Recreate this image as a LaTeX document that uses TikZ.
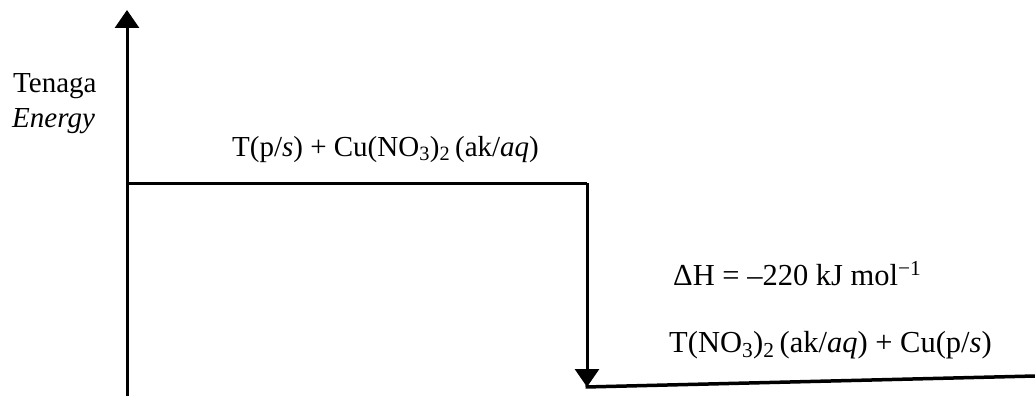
\documentclass[tikz,border=0pt]{standalone}
\usepackage{fontspec}
\setmainfont{Liberation Serif}
\usetikzlibrary{arrows.meta}
\begin{document}
\begin{tikzpicture}[x=1pt,y=-1pt,
  lbl/.style={anchor=base west,inner sep=0pt,font=\fontsize{29}{34}\selectfont},
  lblb/.style={lbl,font=\fontsize{30.5}{36}\selectfont},
  ln/.style={line width=3pt},
  arr/.style={ln,-{Triangle[length=18pt,width=24pt]}}]
\useasboundingbox (0,0) rectangle (1035,396);
\coordinate (o) at (127,396);
\coordinate (top) at (127,10);
\coordinate (l1a) at (127,183);
\coordinate (l1b) at (587,183);
\coordinate (l2a) at (587,387);
\coordinate (l2b) at (1035,376);
\draw[arr] (o) -- (top);
\draw[ln] (l1a) -- (l1b);
\draw[arr] (l1b) -- (l2a);
\draw[ln,line width=3.5pt] ([xshift=-1.5pt]l2a) -- (l2b);
\node[lbl] (ten) at (13,92) {Tenaga};
\node[lbl] (en) at (12,127) {\itshape Energy};
\node[lbl] (react) at (232,156) {T(p/\textit{s}) + Cu(NO\textsubscript{3})\textsubscript{2}\,(ak/\textit{aq})};
\node[lblb] (dh) at (673,285) {ΔH = –220 kJ mol\textsuperscript{−1}};
\node[lblb] (prod) at (669,352) {T(NO\textsubscript{3})\textsubscript{2}\,(ak/\textit{aq}) + Cu(p/\textit{s})};
\end{tikzpicture}
\end{document}
